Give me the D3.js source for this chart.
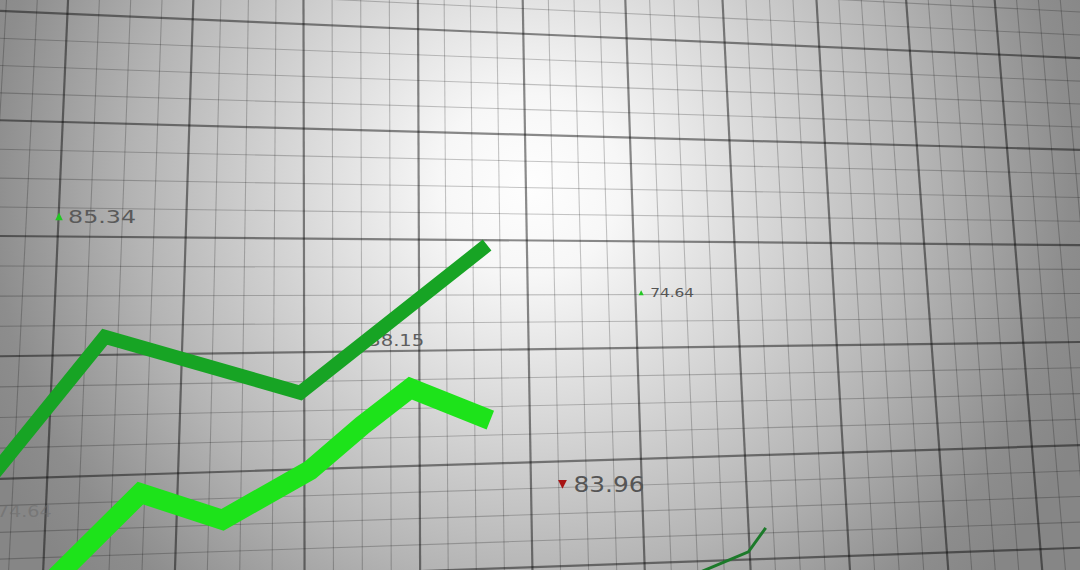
<!DOCTYPE html>
<html><head><meta charset="utf-8">
<script src="https://cdn.jsdelivr.net/npm/d3@7"></script>
<style>html,body{margin:0;padding:0;background:#888;overflow:hidden}svg{display:block}</style>
</head><body><svg id="c" width="1080" height="570"></svg>
<script>
// ---- data (in chart units: x 0..100 across, y 0..100 up) ----
const darkX   = [-0.9, 9.7, 27.8, 45.1];
const darkY   = [16.1, 40.9, 31.1, 57.0];
const brightX = [4.6, 13.0, 20.6, 28.7, 33.5, 38.0, 45.4];
const brightY = [-2.3, 13.5, 8.8, 17.5, 25.3, 31.9, 26.3];
const smallX  = [64.8, 69.3, 70.9];
const smallY  = [-0.4, 3.2, 7.4];

const labelText = ["85.34", "38.15", "74.64", "83.96", "74.64"];
const labelX    = [6.3, 34.1, 60.2, 53.1, -0.3];
const labelY    = [60.9, 39.3, 47.9, 13.7, 9.3];
const labelDir  = ["up", "none", "up", "down", "none"];

// perspective grid (major lines; minor lines interpolated between)
const vTop    = [-5.1, 6.3, 17.9, 28.1, 38.7, 48.4, 57.9, 66.9, 75.6, 83.9, 92.1, 100.2];
const vBottom = [-8.8, 4.0, 16.2, 28.2, 38.9, 49.3, 59.7, 69.5, 78.7, 87.8, 96.5, 105.1];
const hLeft   = [117.2, 98.1, 78.9, 58.6, 37.5, 16.0, -2.8];
const hRight  = [106.0, 89.8, 73.7, 57.0, 40.0, 21.9, 3.9];

const W = 1080, H = 570;
const svg = d3.select("#c");
const x = d3.scaleLinear().domain([0, 100]).range([0, W]);
const y = d3.scaleLinear().domain([0, 100]).range([H, 0]);

// background
const defs = svg.append("defs");
const rg = defs.append("radialGradient").attr("id", "bg")
  .attr("gradientUnits", "userSpaceOnUse").attr("cx", 530).attr("cy", 185).attr("r", 600);
[[0, "#fefefe"], [0.15, "#f7f7f7"], [0.42, "#d4d4d4"], [0.66, "#b4b4b4"], [0.9, "#8d8d8d"], [1, "#868686"]]
  .forEach(([o, c]) => rg.append("stop").attr("offset", o).attr("stop-color", c));
defs.append("filter").attr("id", "soft").append("feGaussianBlur").attr("stdDeviation", 0.45);
svg.append("rect").attr("width", W).attr("height", H).attr("fill", "url(#bg)");

const g = svg.append("g").attr("filter", "url(#soft)");
// minor lines
const minorV = [], minorH = [];
for (let i = 0; i < vTop.length - 1; i++) for (let k = 1; k < 4; k++) {
  const t = k / 4;
  minorV.push([vTop[i] + (vTop[i+1]-vTop[i]) * t, vBottom[i] + (vBottom[i+1]-vBottom[i]) * t]);
}
for (let i = 0; i < hLeft.length - 1; i++) for (let k = 1; k < 4; k++) {
  const t = k / 4;
  minorH.push([hLeft[i] + (hLeft[i+1]-hLeft[i]) * t, hRight[i] + (hRight[i+1]-hRight[i]) * t]);
}
g.selectAll(".mv").data(minorV).join("line")
  .attr("x1", d => x(d[0])).attr("y1", y(100)).attr("x2", d => x(d[1])).attr("y2", y(0))
  .attr("stroke", "#000").attr("stroke-opacity", 0.22).attr("stroke-width", 1.1);
g.selectAll(".mh").data(minorH).join("line")
  .attr("x1", x(0)).attr("y1", d => y(d[0])).attr("x2", x(100)).attr("y2", d => y(d[1]))
  .attr("stroke", "#000").attr("stroke-opacity", 0.22).attr("stroke-width", 1.1);
// major lines
g.selectAll(".Mv").data(d3.zip(vTop, vBottom)).join("line")
  .attr("x1", d => x(d[0])).attr("y1", y(100)).attr("x2", d => x(d[1])).attr("y2", y(0))
  .attr("stroke", "#000").attr("stroke-opacity", 0.45).attr("stroke-width", 2.2);
g.selectAll(".Mh").data(d3.zip(hLeft, hRight)).join("line")
  .attr("x1", x(0)).attr("y1", d => y(d[0])).attr("x2", x(100)).attr("y2", d => y(d[1]))
  .attr("stroke", "#000").attr("stroke-opacity", 0.45).attr("stroke-width", 2.2);

// labels
const sizes = [18, 15, 12, 21, 16];
const widths = [68, 56, 44, 71, 55];
const colors = ["#5a5a5a", "#5e5e5e", "#555", "#555", "#6a6a6a"];
const lab = svg.append("g");
labelText.forEach((t, i) => {
  const px = x(labelX[i]), py = y(labelY[i]);
  lab.append("text").attr("x", px).attr("y", py)
    .attr("font-family", "DejaVu Sans").attr("font-size", sizes[i])
    .attr("fill", colors[i]).attr("fill-opacity", i === 4 ? 0.55 : 1)
    .attr("textLength", widths[i]).attr("lengthAdjust", "spacingAndGlyphs")
    .text(t);
  const s = sizes[i] * 0.42;
  const cy = py - sizes[i] * 0.36;
  if (labelDir[i] === "up") {
    lab.append("path").attr("d", `M${px-9-s/2},${cy+s/2}L${px-9+s/2},${cy+s/2}L${px-9},${cy-s/2}Z`).attr("fill", "#22c722");
  } else if (labelDir[i] === "down") {
    lab.append("path").attr("d", `M${px-11-s/2},${cy-s/2}L${px-11+s/2},${cy-s/2}L${px-11},${cy+s/2}Z`).attr("fill", "#a81414");
  }
});

// series lines
const line = d3.line().x(d => x(d[0])).y(d => y(d[1]));
svg.append("path").attr("d", line(d3.zip(brightX, brightY)))
  .attr("fill", "none").attr("stroke", "#1de31a").attr("stroke-width", 20).attr("stroke-linejoin", "miter");
svg.append("path").attr("d", line(d3.zip(darkX, darkY)))
  .attr("fill", "none").attr("stroke", "#17a424").attr("stroke-width", 14).attr("stroke-linejoin", "miter");
svg.append("path").attr("d", line(d3.zip(smallX, smallY)))
  .attr("fill", "none").attr("stroke", "#1c7a2a").attr("stroke-width", 3);
</script></body></html>
